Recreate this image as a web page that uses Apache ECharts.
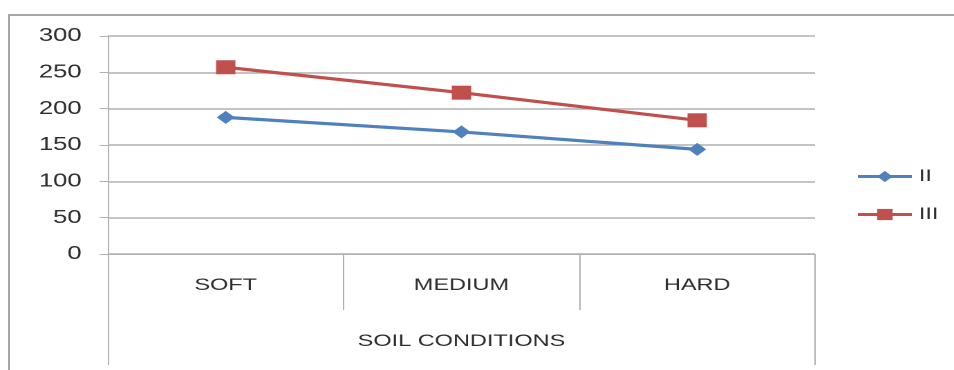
<!DOCTYPE html>
<html>
<head>
<meta charset="utf-8">
<script src="https://cdn.jsdelivr.net/npm/echarts@6/dist/echarts.min.js"></script>
<style>
  html, body { margin: 0; padding: 0; background: #ffffff; overflow: hidden; }
  #frame { position: absolute; left: 8px; top: 14px; width: 960px; height: 380px;
           border-left: 2px solid #a6a6a6; border-top: 2px solid #a6a6a6; }
  #chart { position: absolute; left: 0; top: 0; width: 690px; height: 370px;
           transform-origin: 0 0; transform: scaleX(1.3826); }
</style>
</head>
<body>
<div id="frame"></div>
<div id="chart"></div>
<script>
// Soil condition categories and the two series plotted across them
const categories = ['SOFT', 'MEDIUM', 'HARD'];
const axisTitle = ['SOIL CONDITIONS'];
const seriesII = [188, 168, 144];
const seriesIII = [257, 222, 184];
const yTicks = { min: 0, max: 300, step: 50 };

const FONT = '"Liberation Sans", Arial, sans-serif';
const TEXT = '#2e2e2e';
const LINE = '#b0b0b0';

const chart = echarts.init(document.getElementById('chart'), null, { renderer: 'canvas', devicePixelRatio: 2 });

chart.setOption({
  animation: false,
  backgroundColor: 'transparent',
  grid: { left: 78, right: 100.5, top: 36, bottom: 116, containLabel: false },
  legend: {
    orient: 'vertical',
    left: 614,
    top: 163,
    itemWidth: 39,
    itemHeight: 14,
    itemGap: 21,
    lineStyle: { width: 3 },
    textStyle: { fontFamily: FONT, fontSize: 17, color: TEXT },
    data: ['II', 'III']
  },
  xAxis: [
    {
      type: 'category',
      data: categories,
      position: 'bottom',
      boundaryGap: true,
      axisLine: { show: true, lineStyle: { color: LINE, width: 1 } },
      axisTick: { show: true, interval: 0, length: 56, lineStyle: { color: LINE, width: 1 } },
      axisLabel: { margin: 23, fontFamily: FONT, fontSize: 17, color: TEXT },
      splitLine: { show: false }
    },
    {
      type: 'category',
      data: axisTitle,
      position: 'bottom',
      boundaryGap: true,
      axisLine: { show: false },
      axisTick: { show: true, interval: 0, length: 111, lineStyle: { color: LINE, width: 1 } },
      axisLabel: { margin: 79, fontFamily: FONT, fontSize: 17, color: TEXT },
      splitLine: { show: false }
    }
  ],
  yAxis: {
    type: 'value',
    min: yTicks.min,
    max: yTicks.max,
    interval: yTicks.step,
    axisLine: { show: true, lineStyle: { color: LINE, width: 1 } },
    axisTick: { show: true, length: 6, lineStyle: { color: LINE, width: 1 } },
    axisLabel: { margin: 19, fontFamily: FONT, fontSize: 18.5, color: TEXT },
    splitLine: { show: true, lineStyle: { color: LINE, width: 1.5 } }
  },
  series: [
    {
      name: 'II',
      type: 'line',
      xAxisIndex: 0,
      data: seriesII,
      symbol: 'diamond',
      symbolSize: 13,
      lineStyle: { color: '#4F81BD', width: 3.2 },
      itemStyle: { color: '#4F81BD' }
    },
    {
      name: 'III',
      type: 'line',
      xAxisIndex: 0,
      data: seriesIII,
      symbol: 'rect',
      symbolSize: 14,
      lineStyle: { color: '#C0504D', width: 3.2 },
      itemStyle: { color: '#C0504D' }
    }
  ]
});
</script>
</body>
</html>
